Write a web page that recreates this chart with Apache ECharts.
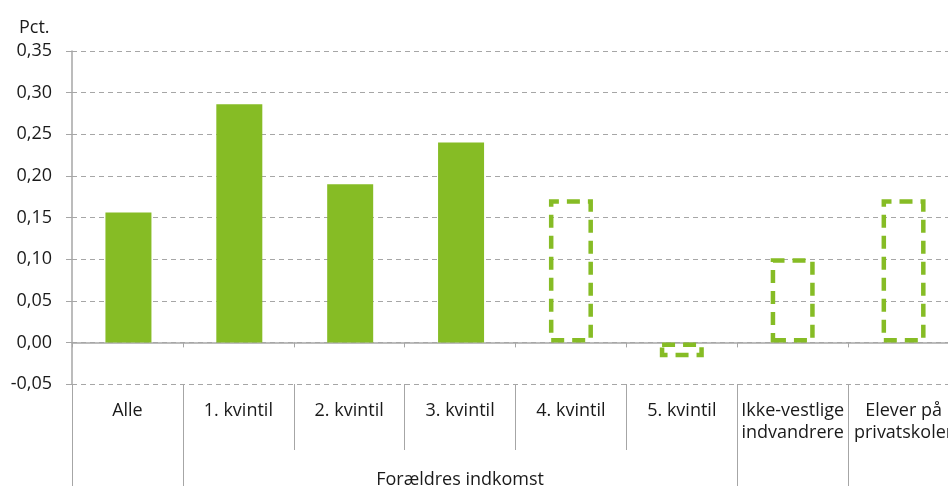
<!DOCTYPE html>
<html>
<head>
<meta charset="utf-8">
<script src="https://cdn.jsdelivr.net/npm/echarts@6/dist/echarts.min.js"></script>
<style>
  html, body { margin: 0; padding: 0; background: #fff; }
  #main { width: 948px; height: 486px; }
</style>
</head>
<body>
<div id="main"></div>
<script>
// kategorier og værdier (pct.)
var categories = ['Alle', '1. kvintil', '2. kvintil', '3. kvintil', '4. kvintil', '5. kvintil', 'Ikke-vestlige\nindvandrere', 'Elever på\nprivatskoler'];
var measured = [0.156, 0.286, 0.190, 0.240, null, null, null, null];
var uncertain = [null, null, null, null, 0.172, -0.018, 0.101, 0.172];
var groupName = 'Forældres indkomst';
var yTicks = [-0.05, 0, 0.05, 0.10, 0.15, 0.20, 0.25, 0.30, 0.35];

var green = '#86bc25';
var grey = '#a6a6a6';
var textCol = '#1a1a1a';
var font = 'Open Sans';
var fs = 18;

var myChart = echarts.init(document.getElementById('main'));
myChart.setOption({
    animation: false,
    title: {
        text: 'Pct.',
        left: 14,
        top: 14,
        textStyle: { fontFamily: font, fontSize: fs, fontWeight: 'normal', color: textCol }
    },
    grid: { left: 72, top: 51, width: 887, bottom: 102, containLabel: false, outerBoundsMode: 'none' },
    xAxis: [
        {
            // aksen ved 0
            type: 'category',
            data: categories,
            axisLine: { onZero: true, lineStyle: { color: grey, width: 1.5 } },
            axisTick: { show: true, length: 5, lineStyle: { color: grey } },
            axisLabel: { show: false },
            splitLine: { show: false }
        },
        {
            // kategoritekster
            type: 'category',
            data: categories,
            position: 'bottom',
            axisLine: { onZero: false, show: false },
            axisTick: { show: true, length: 66, lineStyle: { color: grey } },
            axisLabel: {
                interval: 0, margin: 16,
                fontFamily: font, fontSize: fs, color: textCol, lineHeight: 22
            }
        },
        {
            // gruppe: forældres indkomst
            type: 'category',
            data: categories,
            position: 'bottom',
            axisLine: { onZero: false, show: false },
            axisTick: {
                show: true, length: 110, lineStyle: { color: grey },
                interval: function (i) { return [0, 1, 6, 7].indexOf(i) >= 0; }
            },
            axisLabel: {
                margin: 85,
                fontFamily: font, fontSize: fs, color: textCol, lineHeight: 22,
                interval: function (i) { return i === 3; },
                formatter: function () { return groupName; }
            }
        }
    ],
    yAxis: {
        type: 'value',
        min: yTicks[0],
        max: yTicks[yTicks.length - 1],
        interval: 0.05,
        axisLine: { show: true, lineStyle: { color: grey, width: 1.5 } },
        axisTick: { show: true, length: 6, lineStyle: { color: grey } },
        axisLabel: {
            margin: 20,
            fontFamily: font, fontSize: fs, color: textCol,
            formatter: function (v) { return v.toFixed(2).replace('.', ','); }
        },
        splitLine: { show: true, lineStyle: { color: grey, type: [5, 4], width: 1.2 } }
    },
    series: [
        {
            type: 'bar',
            data: measured,
            barWidth: 46,
            barGap: '-100%',
            itemStyle: { color: green }
        },
        {
            type: 'bar',
            data: uncertain,
            barWidth: 44,
            barGap: '-100%',
            itemStyle: {
                color: 'rgba(0,0,0,0)',
                borderColor: green,
                borderWidth: 4.5,
                borderType: [13, 8]
            }
        }
    ]
});
</script>
</body>
</html>
